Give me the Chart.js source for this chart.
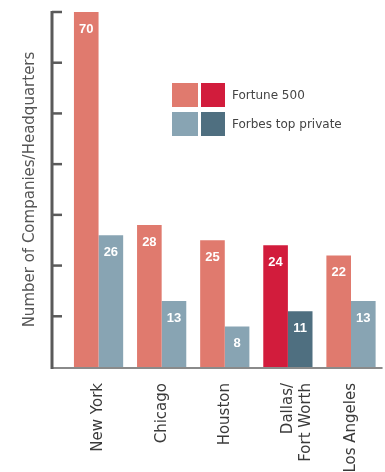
<!DOCTYPE html>
<html>
<head>
<meta charset="utf-8">
<script src="https://cdn.jsdelivr.net/npm/chart.js@4"></script>
<style>
html, body { margin: 0; padding: 0; background: #fff; }
#wrap { width: 385px; height: 472px; }
</style>
</head>
<body>
<div id="wrap"><canvas id="graph1"></canvas></div>
<script>
var cities = ['New York', 'Chicago', 'Houston', ['Dallas/', 'Fort Worth'], 'Los Angeles'];
var fortune500 = [70, 28, 25, 24, 22];
var forbesPrivate = [26, 13, 8, 11, 13];
var yTicks = [10, 20, 30, 40, 50, 60, 70];
var highlight = 3; // Dallas/Fort Worth

var colFortune = '#E07A6E', colFortuneHi = '#D21C3C';
var colForbes = '#88A4B3', colForbesHi = '#4F6F80';

var ctx = document.getElementById("graph1").getContext("2d");

// axis line, tick marks, value labels and the legend
var decoPlugin = {
    id: 'deco',
    afterDatasetsDraw: function (chart) {
        var c = chart.ctx;
        var area = chart.chartArea;
        var y = chart.scales.y;
        var axisX = area.left - 15;
        var y0 = y.getPixelForValue(0);
        var yTop = y.getPixelForValue(70);
        c.save();
        // x baseline
        c.strokeStyle = '#8a8a8a';
        c.lineWidth = 2;
        c.beginPath();
        c.moveTo(axisX, y0 + 1);
        c.lineTo(area.right, y0 + 1);
        c.stroke();
        // y axis
        c.strokeStyle = '#5a5a5a';
        c.lineWidth = 3;
        c.beginPath();
        c.moveTo(axisX, yTop - 1);
        c.lineTo(axisX, y0 + 2);
        c.stroke();
        c.lineWidth = 2.5;
        yTicks.forEach(function (t) {
            var py = y.getPixelForValue(t);
            c.beginPath();
            c.moveTo(axisX, py);
            c.lineTo(axisX + 10, py);
            c.stroke();
        });
        // values inside bars
        c.fillStyle = '#fff';
        c.font = 'bold 13px "Liberation Sans", Arial, sans-serif';
        c.textAlign = 'center';
        c.textBaseline = 'middle';
        chart.data.datasets.forEach(function (ds, i) {
            chart.getDatasetMeta(i).data.forEach(function (bar, j) {
                c.fillText(ds.data[j], bar.x, bar.y + 17);
            });
        });
        // legend
        var rows = [
            { label: 'Fortune 500', a: colFortune, b: colFortuneHi, top: 83 },
            { label: 'Forbes top private', a: colForbes, b: colForbesHi, top: 112 }
        ];
        c.font = '12px "DejaVu Sans", sans-serif';
        c.textAlign = 'left';
        rows.forEach(function (r) {
            c.fillStyle = r.a;
            c.fillRect(172, r.top, 26, 24);
            c.fillStyle = r.b;
            c.fillRect(201, r.top, 24, 24);
            c.fillStyle = '#444';
            c.fillText(r.label, 232, r.top + 13);
        });
        c.restore();
    }
};

var config = {
    type: 'bar',
    data: {
        labels: cities,
        datasets: [
            {
                label: 'Fortune 500',
                data: fortune500,
                backgroundColor: fortune500.map(function (v, i) { return i === highlight ? colFortuneHi : colFortune; })
            },
            {
                label: 'Forbes top private',
                data: forbesPrivate,
                backgroundColor: forbesPrivate.map(function (v, i) { return i === highlight ? colForbesHi : colForbes; })
            }
        ]
    },
    options: {
        responsive: true,
        maintainAspectRatio: false,
        animation: false,
        barPercentage: 1,
        categoryPercentage: 0.78,
        layout: { padding: { top: 12, left: 0, right: 0, bottom: 0 } },
        plugins: {
            legend: { display: false },
            tooltip: { enabled: false }
        },
        scales: {
            x: {
                grid: { display: false, drawTicks: false },
                border: { display: false },
                ticks: {
                    color: '#3a3a3a',
                    font: { family: '"DejaVu Sans", sans-serif', size: 15 },
                    minRotation: 90,
                    maxRotation: 90,
                    padding: 16,
                    autoSkip: false
                },
                afterFit: function (scale) { scale.height = 105; }
            },
            y: {
                min: 0,
                max: 70,
                grid: { display: false, drawTicks: false },
                border: { display: false },
                ticks: { display: false, stepSize: 10 },
                title: {
                    display: true,
                    text: 'Number of Companies/Headquarters',
                    color: '#555',
                    font: { family: '"DejaVu Sans", sans-serif', size: 15 },
                    padding: { top: 21, bottom: 0 }
                },
                afterFit: function (scale) { scale.width = 67; }
            }
        }
    },
    plugins: [decoPlugin]
};

var graph1 = new Chart(ctx, config);
</script>
</body>
</html>
